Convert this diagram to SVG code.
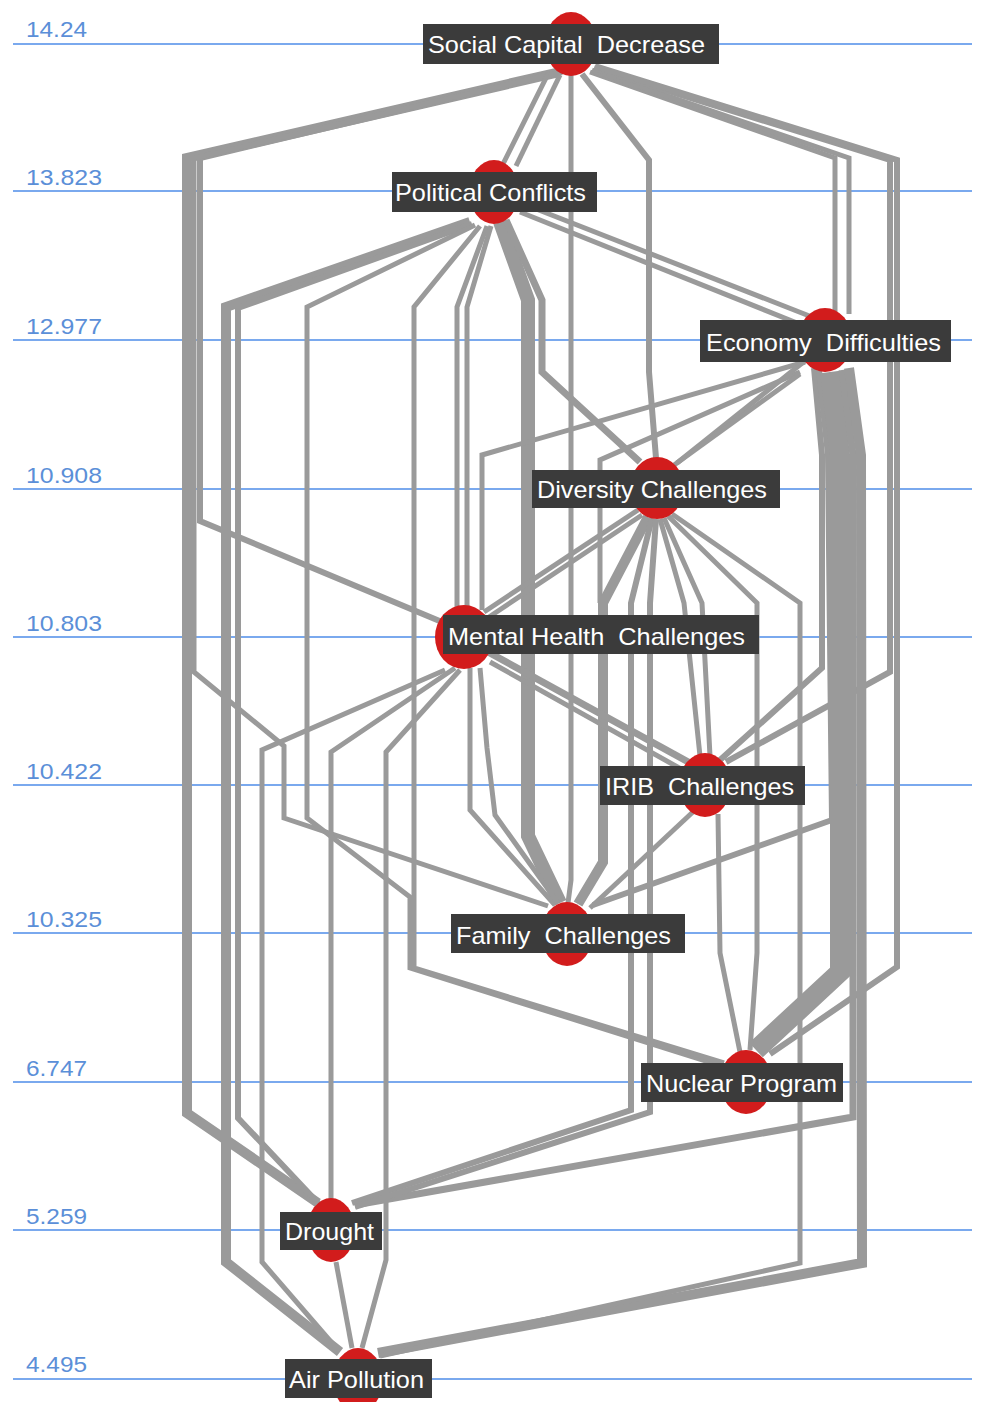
<svg xmlns="http://www.w3.org/2000/svg" width="981" height="1402" viewBox="0 0 981 1402">
<style>
.ax{stroke:#7aa9ee;stroke-width:2;fill:none}
.at{font-family:"Liberation Sans",Arial,sans-serif;font-size:22px;fill:#5b8fd8}
.e{fill:none;stroke:#9a9a9a;stroke-linejoin:miter;stroke-linecap:butt}
.w5{stroke-width:5}.w6{stroke-width:6}.w7{stroke-width:7}.w9{stroke-width:9}.w10{stroke-width:10}.w14{stroke-width:14}.w18{stroke-width:18}.w20{stroke-width:20}
.dot{fill:#d21c1c}
.box{fill:#3b3b3b}
.lbl{font-family:"Liberation Sans",Arial,sans-serif;font-size:24px;fill:#ffffff;white-space:pre}
</style>
<rect width="981" height="1402" fill="#ffffff"/>
<g id="axis">
<line class="ax" x1="13" y1="44" x2="972" y2="44"/>
<line class="ax" x1="13" y1="191" x2="972" y2="191"/>
<line class="ax" x1="13" y1="340" x2="972" y2="340"/>
<line class="ax" x1="13" y1="489" x2="972" y2="489"/>
<line class="ax" x1="13" y1="637" x2="972" y2="637"/>
<line class="ax" x1="13" y1="785" x2="972" y2="785"/>
<line class="ax" x1="13" y1="933" x2="972" y2="933"/>
<line class="ax" x1="13" y1="1082" x2="972" y2="1082"/>
<line class="ax" x1="13" y1="1230" x2="972" y2="1230"/>
<line class="ax" x1="13" y1="1379" x2="972" y2="1379"/>
<text class="at" x="26" y="37" textLength="61" lengthAdjust="spacingAndGlyphs">14.24</text>
<text class="at" x="26" y="185" textLength="76" lengthAdjust="spacingAndGlyphs">13.823</text>
<text class="at" x="26" y="334" textLength="76" lengthAdjust="spacingAndGlyphs">12.977</text>
<text class="at" x="26" y="483" textLength="76" lengthAdjust="spacingAndGlyphs">10.908</text>
<text class="at" x="26" y="631" textLength="76" lengthAdjust="spacingAndGlyphs">10.803</text>
<text class="at" x="26" y="779" textLength="76" lengthAdjust="spacingAndGlyphs">10.422</text>
<text class="at" x="26" y="927" textLength="76" lengthAdjust="spacingAndGlyphs">10.325</text>
<text class="at" x="26" y="1076" textLength="61" lengthAdjust="spacingAndGlyphs">6.747</text>
<text class="at" x="26" y="1224" textLength="61" lengthAdjust="spacingAndGlyphs">5.259</text>
<text class="at" x="26" y="1372" textLength="61" lengthAdjust="spacingAndGlyphs">4.495</text>
</g>
<g id="connectors">
<polyline class="e w10" points="560,72 187,158 187,1113 318,1203"/>
<polyline class="e w6" points="562,72 200,158 200,521 442,622"/>
<polyline class="e w5" points="561,72 194,158 194,672 284,746 284,818 548,906"/>
<polyline class="e w5" points="548,74 503,164"/>
<polyline class="e w5" points="560,75 516,166"/>
<polyline class="e w5" points="571,75 571,880 568,903"/>
<polyline class="e w6" points="582,74 649,160 649,372 656,458"/>
<polyline class="e w5" points="590,72 835,158 835,312"/>
<polyline class="e w5" points="592,70 849,158 849,314"/>
<polyline class="e w6" points="594,68 890,160 890,672 726,762"/>
<polyline class="e w6" points="595,66 897,160 897,967 770,1054"/>
<polyline class="e w10" points="470,222 226,307 226,1262 340,1352"/>
<polyline class="e w6" points="472,224 238,308 238,1118 320,1205"/>
<polyline class="e w5" points="475,225 307,307 307,818 410,897 410,968 722,1066"/>
<polyline class="e w5" points="480,226 414,307 414,968 724,1063"/>
<polyline class="e w5" points="487,226 457,307 457,608"/>
<polyline class="e w5" points="491,226 467,307 467,608"/>
<polyline class="e w14" points="500,222 528,300 528,836 560,903"/>
<polyline class="e w7" points="506,220 542,300 542,372 640,462"/>
<polyline class="e w5" points="520,212 802,325"/>
<polyline class="e w5" points="526,205 812,317"/>
<polyline class="e w6" points="814,368 822,455 822,668 720,760"/>
<polyline class="e w6" points="819,370 828,455 832,820 593,905"/>
<polyline class="e w20" points="830,372 840,455 840,972 756,1050"/>
<polyline class="e w7" points="842,370 853,455 853,1117 355,1205"/>
<polyline class="e w10" points="849,368 861,455 862,1263 378,1353"/>
<polyline class="e w5" points="805,362 482,455 482,610"/>
<polyline class="e w5" points="800,372 600,460 600,603"/>
<polyline class="e w5" points="806,360 677,463"/>
<polyline class="e w5" points="800,374 670,468"/>
<polyline class="e w10" points="648,517 603,603 603,862 578,904"/>
<polyline class="e w6" points="652,518 631,603 631,1110 352,1203"/>
<polyline class="e w6" points="656,519 650,603 650,1112 355,1207"/>
<polyline class="e w5" points="660,519 684,603 700,756"/>
<polyline class="e w5" points="664,518 702,603 710,756"/>
<polyline class="e w5" points="668,516 757,603 757,953 750,1050"/>
<polyline class="e w5" points="672,514 800,603 800,1263 380,1356"/>
<polyline class="e w5" points="638,510 484,612"/>
<polyline class="e w5" points="642,515 489,617"/>
<polyline class="e w5" points="445,670 262,750 262,1262 338,1350"/>
<polyline class="e w5" points="455,668 331,752 331,1200"/>
<polyline class="e w5" points="460,670 386,752 386,1260 362,1348"/>
<polyline class="e w7" points="488,652 692,764"/>
<polyline class="e w5" points="490,662 690,774"/>
<polyline class="e w5" points="470,668 470,810 555,905"/>
<polyline class="e w5" points="480,668 487,748 495,815 558,903"/>
<polyline class="e w5" points="695,810 590,908"/>
<polyline class="e w5" points="718,814 720,953 740,1052"/>
<polyline class="e w5" points="336,1262 352,1348"/>
</g>
<g id="n-social-capital">
<ellipse class="dot" cx="571" cy="44" rx="26" ry="32"/>
<rect class="box" x="423" y="24" width="296" height="40"/>
<text class="lbl" x="428" y="53" textLength="277" lengthAdjust="spacingAndGlyphs" xml:space="preserve">Social Capital  Decrease</text>
</g>
<g id="n-political">
<ellipse class="dot" cx="494" cy="192" rx="25" ry="32"/>
<rect class="box" x="392" y="172" width="205" height="40"/>
<text class="lbl" x="395" y="201" textLength="191" lengthAdjust="spacingAndGlyphs">Political Conflicts</text>
</g>
<g id="n-economy">
<ellipse class="dot" cx="825" cy="340" rx="27" ry="32"/>
<rect class="box" x="700" y="320" width="251" height="42"/>
<text class="lbl" x="706" y="351" textLength="235" lengthAdjust="spacingAndGlyphs" xml:space="preserve">Economy  Difficulties</text>
</g>
<g id="n-diversity">
<ellipse class="dot" cx="657" cy="488" rx="27" ry="31"/>
<rect class="box" x="532" y="470" width="248" height="38"/>
<text class="lbl" x="537" y="498" textLength="230" lengthAdjust="spacingAndGlyphs">Diversity Challenges</text>
</g>
<g id="n-mental">
<ellipse class="dot" cx="464" cy="637" rx="29" ry="32"/>
<rect class="box" x="443" y="615" width="316" height="39"/>
<text class="lbl" x="448" y="645" textLength="297" lengthAdjust="spacingAndGlyphs" xml:space="preserve">Mental Health  Challenges</text>
</g>
<g id="n-irib">
<ellipse class="dot" cx="705" cy="785" rx="26" ry="32"/>
<rect class="box" x="600" y="766" width="205" height="39"/>
<text class="lbl" x="605" y="795" textLength="189" lengthAdjust="spacingAndGlyphs" xml:space="preserve">IRIB  Challenges</text>
</g>
<g id="n-family">
<ellipse class="dot" cx="567" cy="934" rx="26" ry="32"/>
<rect class="box" x="451" y="914" width="234" height="39"/>
<text class="lbl" x="456" y="944" textLength="215" lengthAdjust="spacingAndGlyphs" xml:space="preserve">Family  Challenges</text>
</g>
<g id="n-nuclear">
<ellipse class="dot" cx="746" cy="1082" rx="26" ry="32"/>
<rect class="box" x="641" y="1063" width="202" height="39"/>
<text class="lbl" x="646" y="1092" textLength="191" lengthAdjust="spacingAndGlyphs">Nuclear Program</text>
</g>
<g id="n-drought">
<ellipse class="dot" cx="331" cy="1230" rx="24" ry="32"/>
<rect class="box" x="280" y="1212" width="102" height="38"/>
<text class="lbl" x="285" y="1240" textLength="89" lengthAdjust="spacingAndGlyphs">Drought</text>
</g>
<g id="n-air">
<ellipse class="dot" cx="358" cy="1380" rx="25" ry="32"/>
<rect class="box" x="285" y="1359" width="147" height="39"/>
<text class="lbl" x="289" y="1388" textLength="135" lengthAdjust="spacingAndGlyphs">Air Pollution</text>
</g>
</svg>
